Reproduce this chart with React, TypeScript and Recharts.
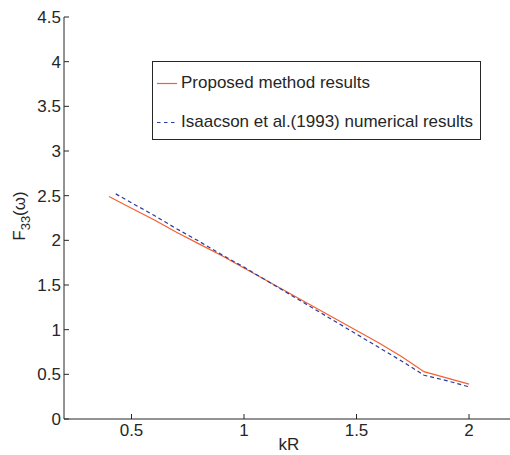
import React from 'react';
import { LineChart, Line, XAxis, YAxis } from 'recharts';

const proposedKR = [0.4, 0.5, 0.6, 0.7, 0.8, 0.9, 1.0, 1.1, 1.2, 1.3, 1.4, 1.5, 1.6, 1.7, 1.8, 1.9, 2.0];
const proposedF = [2.49, 2.36, 2.23, 2.09, 1.96, 1.83, 1.69, 1.55, 1.41, 1.27, 1.13, 0.99, 0.85, 0.7, 0.53, 0.46, 0.39];

const isaacsonKR = [0.43, 0.5, 0.6, 0.7, 0.8, 0.9, 1.0, 1.1, 1.2, 1.3, 1.4, 1.5, 1.6, 1.7, 1.8, 1.9, 2.0];
const isaacsonF = [2.52, 2.42, 2.28, 2.13, 1.99, 1.84, 1.7, 1.55, 1.4, 1.25, 1.1, 0.95, 0.8, 0.65, 0.49, 0.43, 0.36];

const xTicks = [0.5, 1, 1.5, 2];
const yTicks = [0, 0.5, 1, 1.5, 2, 2.5, 3, 3.5, 4, 4.5];

const legendLabels = ['Proposed method results', 'Isaacson et al.(1993) numerical results'];

const proposedData = proposedKR.map((x, i) => ({ x, y: proposedF[i] }));
const isaacsonData = isaacsonKR.map((x, i) => ({ x, y: isaacsonF[i] }));

const RED = '#f5602f';
const BLUE = '#2b3a9c';
const INK = '#262626';
const FONT = '"Liberation Sans", Arial, Helvetica, sans-serif';

const fmt = (v: number) => String(v);

export default function App() {
  return (
    <div style={{ position: 'absolute', left: 0, top: 0, width: 510, height: 455, overflow: 'hidden', background: '#fff' }}>
      <LineChart
        width={520}
        height={455}
        margin={{ top: 17, right: 6, bottom: 6, left: 4 }}
        style={{ fontFamily: FONT }}
      >
        <XAxis
          xAxisId="b"
          dataKey="x"
          type="number"
          domain={[0.2, 2.2]}
          ticks={xTicks}
          tickFormatter={fmt}
          allowDataOverflow
          height={30}
          tickSize={-5}
          tickMargin={10}
          stroke={INK}
          tick={{ fill: INK, fontSize: 17, fontFamily: FONT }}
          label={(props: any) => {
            const vb = props.viewBox;
            return (
              <text x={vb.x + vb.width / 2} y={450} textAnchor="middle" fill={INK} fontSize={17} fontFamily={FONT}>
                kR
              </text>
            );
          }}
        />
        <XAxis
          xAxisId="t"
          orientation="top"
          dataKey="x"
          type="number"
          domain={[0.2, 2.2]}
          ticks={xTicks}
          allowDataOverflow
          height={0}
          tickSize={-5}
          tick={false}
          stroke={INK}
        />
        <YAxis
          yAxisId="l"
          type="number"
          domain={[0, 4.5]}
          ticks={yTicks}
          tickFormatter={fmt}
          width={60}
          tickSize={-5}
          tickMargin={8}
          stroke={INK}
          tick={{ fill: INK, fontSize: 17, fontFamily: FONT }}
          label={(props: any) => {
            const vb = props.viewBox;
            const cx = 25;
            const cy = vb.y + vb.height / 2 - 2;
            return (
              <text
                x={cx}
                y={cy}
                textAnchor="middle"
                transform={`rotate(-90, ${cx}, ${cy})`}
                fill={INK}
                fontSize={17}
                fontFamily={FONT}
              >
                F
                <tspan fontSize={13} dy={5}>33</tspan>
                <tspan dy={-5}>(ω)</tspan>
              </text>
            );
          }}
        />
        <Line
          xAxisId="b"
          yAxisId="l"
          data={proposedData}
          dataKey="y"
          type="linear"
          stroke={RED}
          strokeWidth={1.2}
          dot={false}
          isAnimationActive={false}
        />
        <Line
          xAxisId="b"
          yAxisId="l"
          data={isaacsonData}
          dataKey="y"
          type="linear"
          stroke={BLUE}
          strokeWidth={1.2}
          strokeDasharray="4 3"
          dot={false}
          isAnimationActive={false}
        />
      </LineChart>
      <div
        style={{
          position: 'absolute',
          left: 152,
          top: 61,
          width: 327,
          height: 77,
          border: `1px solid ${INK}`,
          background: '#fff',
          fontFamily: FONT,
          fontSize: 17,
          color: INK,
        }}
      >
        <svg width={24} height={77} style={{ position: 'absolute', left: 0, top: 0 }}>
          <line x1={4} x2={26} y1={21.5} y2={21.5} stroke={RED} strokeWidth={1.2} />
          <line x1={4} x2={26} y1={60.5} y2={60.5} stroke={BLUE} strokeWidth={1.2} strokeDasharray="3.5 3.5" />
        </svg>
        <div style={{ position: 'absolute', left: 28, top: 11, whiteSpace: 'nowrap', lineHeight: '20px' }}>{legendLabels[0]}</div>
        <div style={{ position: 'absolute', left: 28, top: 50, whiteSpace: 'nowrap', lineHeight: '20px' }}>{legendLabels[1]}</div>
      </div>
    </div>
  );
}
